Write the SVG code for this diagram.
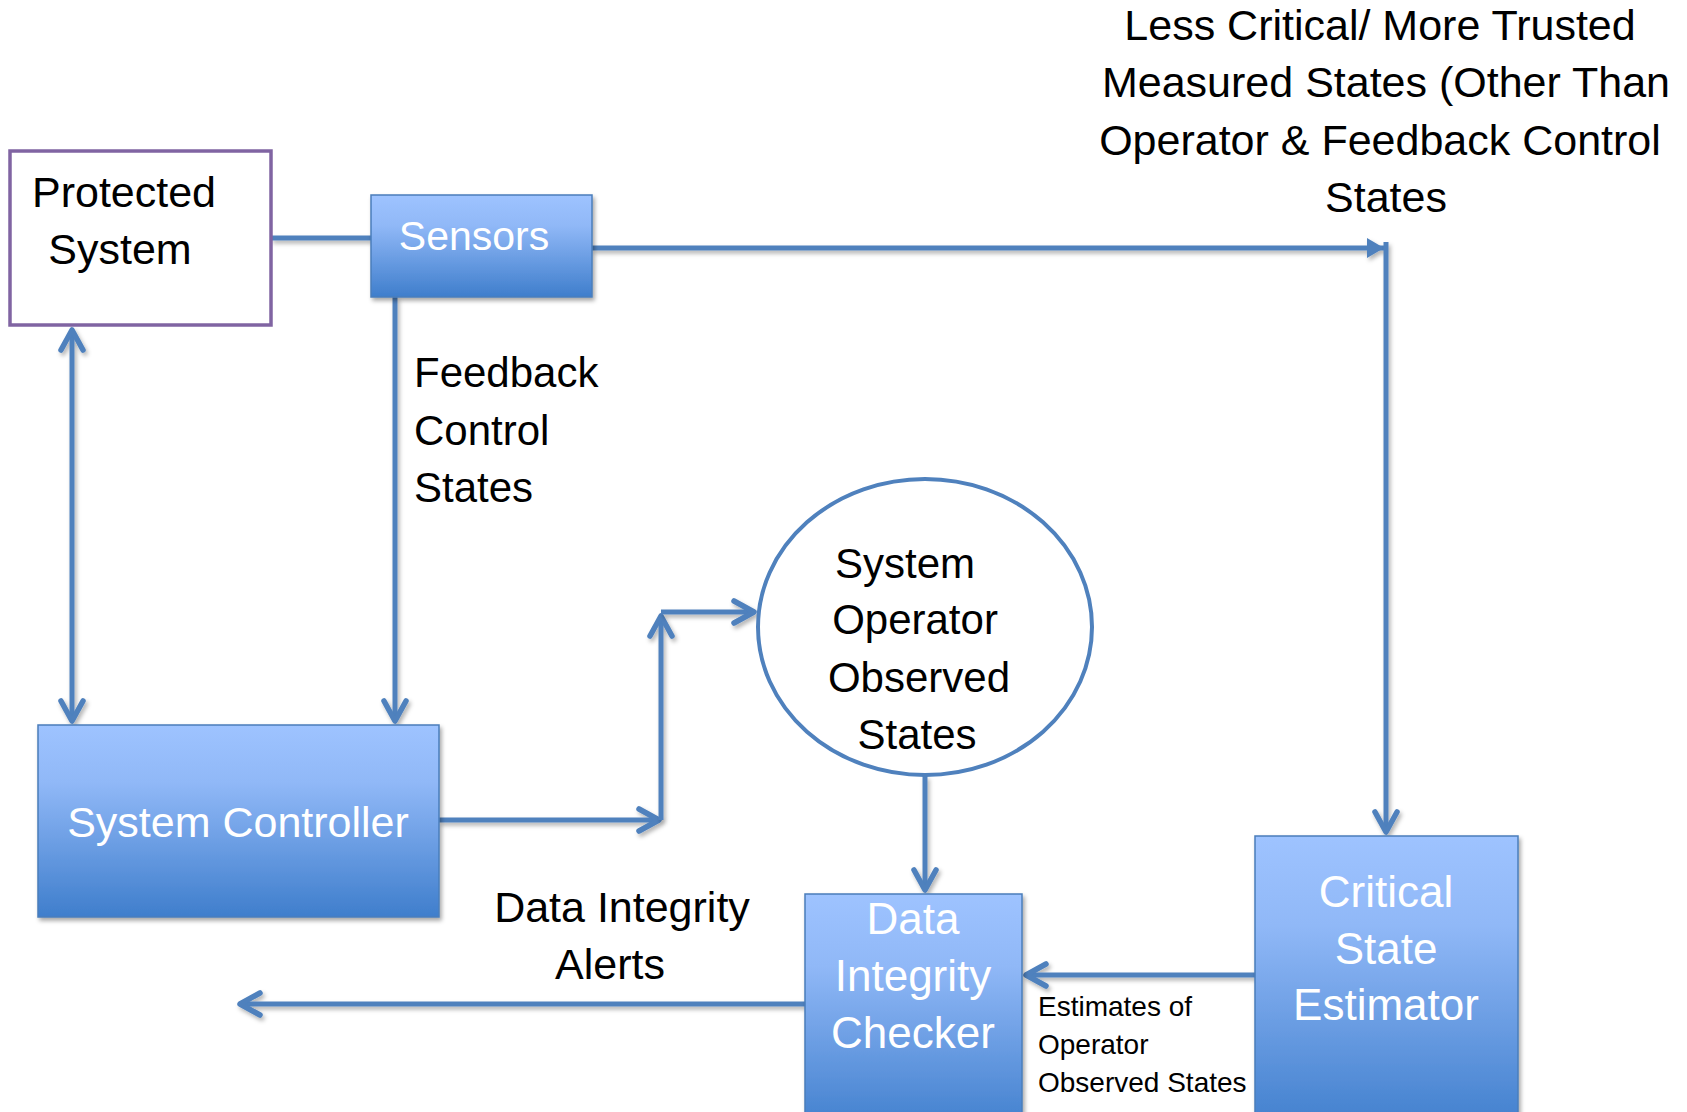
<svg xmlns="http://www.w3.org/2000/svg" width="1687" height="1112" viewBox="0 0 1687 1112">
  <defs>
    <linearGradient id="boxFill" x1="0" y1="0" x2="0" y2="1">
      <stop offset="0" stop-color="#9ec3ff"/>
      <stop offset="0.3" stop-color="#90b8f7"/>
      <stop offset="1" stop-color="#3f7ecc"/>
    </linearGradient>
    <filter id="shadow" x="-10%" y="-10%" width="120%" height="130%">
      <feDropShadow dx="2" dy="3" stdDeviation="2" flood-color="#000" flood-opacity="0.35"/>
    </filter>
    <!-- straight lines have a zero-size box, so this one works in page units -->
    <filter id="wireShadow" filterUnits="userSpaceOnUse" x="0" y="0" width="1687" height="1112">
      <feDropShadow dx="2" dy="3" stdDeviation="2" flood-color="#000" flood-opacity="0.3"/>
    </filter>
    <marker id="open" viewBox="-26 -14 30 28" markerWidth="30" markerHeight="28" refX="0" refY="0" orient="auto-start-reverse" markerUnits="userSpaceOnUse">
      <path d="M-20,-11 L0,0 L-20,11" fill="none" stroke="#4f81bd" stroke-width="5.5" stroke-linecap="round" stroke-linejoin="round"/>
    </marker>
    <marker id="solid" viewBox="-20 -12 22 24" markerWidth="22" markerHeight="24" refX="0" refY="0" orient="auto" markerUnits="userSpaceOnUse">
      <path d="M-17,-10 L0,0 L-17,10 Z" fill="#4f81bd"/>
    </marker>
  </defs>
  <style>
    .label { font-family: "Liberation Sans", Arial, sans-serif; fill: #000; }
    .inbox { font-family: "Liberation Sans", Arial, sans-serif; fill: #fff; text-anchor: middle; }
    .box { fill: url(#boxFill); stroke: #4a7ebb; stroke-width: 1.5; filter: url(#shadow); }
    .wire { fill: none; stroke: #4f81bd; stroke-width: 5; filter: url(#wireShadow); }
  </style>

  <rect width="1687" height="1112" fill="#fff"/>

  <!-- connectors -->
  <g id="connectors">
    <line class="wire" x1="271" y1="238" x2="371" y2="238"/>
    <line class="wire" x1="72" y1="330" x2="72" y2="721" marker-start="url(#open)" marker-end="url(#open)"/>
    <line class="wire" x1="395" y1="297" x2="395" y2="721" marker-end="url(#open)"/>
    <line class="wire" x1="592" y1="248" x2="1384" y2="248" marker-end="url(#solid)"/>
    <line class="wire" x1="1386" y1="242" x2="1386" y2="832" marker-end="url(#open)"/>
    <line class="wire" x1="439" y1="820" x2="659" y2="820" marker-end="url(#open)"/>
    <line class="wire" x1="661" y1="820" x2="661" y2="616" marker-end="url(#open)"/>
    <line class="wire" x1="661" y1="612" x2="754" y2="612" marker-end="url(#open)"/>
    <line class="wire" x1="925" y1="776" x2="925" y2="890" marker-end="url(#open)"/>
    <line class="wire" x1="1255" y1="975" x2="1026" y2="975" marker-end="url(#open)"/>
    <line class="wire" x1="805" y1="1004" x2="240" y2="1004" marker-end="url(#open)"/>
  </g>

  <!-- Protected System -->
  <g id="protected-system">
    <rect x="10" y="151" width="261" height="174" fill="#fff" stroke="#8064a2" stroke-width="3.5"/>
    <text class="label" font-size="43" text-anchor="middle" x="124" y="207">Protected</text>
    <text class="label" font-size="43" text-anchor="middle" x="120" y="264">System</text>
  </g>

  <!-- Sensors -->
  <g id="sensors">
    <rect class="box" x="371" y="195" width="221" height="102"/>
    <text class="inbox" font-size="41" x="474" y="250">Sensors</text>
  </g>

  <!-- System Controller -->
  <g id="system-controller">
    <rect class="box" x="38" y="725" width="401" height="192"/>
    <text class="inbox" font-size="43" x="238" y="837">System Controller</text>
  </g>

  <!-- System Operator Observed States -->
  <g id="operator-states">
    <ellipse cx="925" cy="627" rx="167" ry="148" fill="#fff" stroke="#4f81bd" stroke-width="4"/>
    <text class="label" font-size="42" text-anchor="middle" x="905" y="578">System</text>
    <text class="label" font-size="42" text-anchor="middle" x="915" y="634">Operator</text>
    <text class="label" font-size="42" text-anchor="middle" x="919" y="692">Observed</text>
    <text class="label" font-size="42" text-anchor="middle" x="917" y="749">States</text>
  </g>

  <!-- Data Integrity Checker -->
  <g id="data-integrity-checker">
    <rect class="box" x="805" y="894" width="217" height="240"/>
    <text class="inbox" font-size="44" x="913" y="934">Data</text>
    <text class="inbox" font-size="44" x="913" y="991">Integrity</text>
    <text class="inbox" font-size="44" x="913" y="1048">Checker</text>
  </g>

  <!-- Critical State Estimator -->
  <g id="critical-state-estimator">
    <rect class="box" x="1255" y="836" width="263" height="298"/>
    <text class="inbox" font-size="44" x="1386" y="907">Critical</text>
    <text class="inbox" font-size="44" x="1386" y="964">State</text>
    <text class="inbox" font-size="44" x="1386" y="1020">Estimator</text>
  </g>

  <!-- free labels -->
  <g id="labels">
    <text class="label" font-size="42" x="414" y="387">Feedback</text>
    <text class="label" font-size="42" x="414" y="445">Control</text>
    <text class="label" font-size="42" x="414" y="502">States</text>

    <text class="label" font-size="43" text-anchor="middle" x="1380" y="40">Less Critical/ More Trusted</text>
    <text class="label" font-size="43" text-anchor="middle" x="1386" y="97">Measured States (Other Than</text>
    <text class="label" font-size="43" text-anchor="middle" x="1380" y="155">Operator &amp; Feedback Control</text>
    <text class="label" font-size="43" text-anchor="middle" x="1386" y="212">States</text>

    <text class="label" font-size="43" text-anchor="middle" x="622" y="922">Data Integrity</text>
    <text class="label" font-size="43" text-anchor="middle" x="610" y="979">Alerts</text>

    <text class="label" font-size="28" x="1038" y="1016">Estimates of</text>
    <text class="label" font-size="28" x="1038" y="1054">Operator</text>
    <text class="label" font-size="28" x="1038" y="1092">Observed States</text>
  </g>
</svg>
